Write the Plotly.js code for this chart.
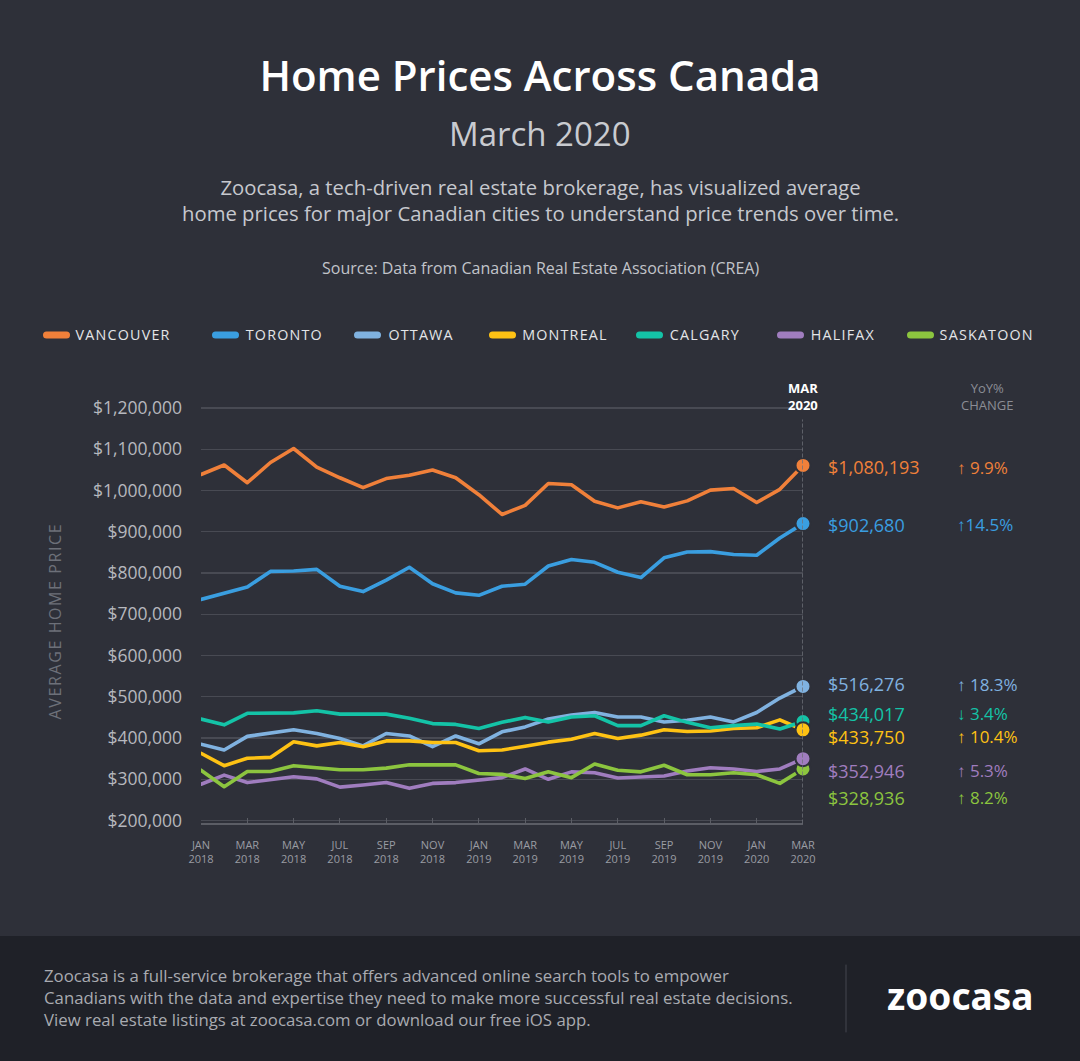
<!DOCTYPE html>
<html>
<head>
<meta charset="utf-8">
<script src="https://cdn.plot.ly/plotly-3.0.1.min.js"></script>
<style>
  html, body { margin: 0; padding: 0; background: #2e3039; }
  #chart { width: 1080px; height: 1061px; }
  .shapelayer path { stroke-linecap: round; }
  .scatterlayer .js-line { stroke-linejoin: round; stroke-linecap: round; }
</style>
</head>
<body>
<div id="chart"></div>
<script>
// ---------------- DATA ----------------
const months = [
  "Jan 2018","Feb 2018","Mar 2018","Apr 2018","May 2018","Jun 2018","Jul 2018","Aug 2018","Sep 2018","Oct 2018","Nov 2018","Dec 2018",
  "Jan 2019","Feb 2019","Mar 2019","Apr 2019","May 2019","Jun 2019","Jul 2019","Aug 2019","Sep 2019","Oct 2019","Nov 2019","Dec 2019",
  "Jan 2020","Feb 2020","Mar 2020"
];
const tickMonths = ["Jan 2018","Mar 2018","May 2018","Jul 2018","Sep 2018","Nov 2018","Jan 2019","Mar 2019","May 2019","Jul 2019","Sep 2019","Nov 2019","Jan 2020","Mar 2020"];
const tickLabels = ["JAN<br>2018","MAR<br>2018","MAY<br>2018","JUL<br>2018","SEP<br>2018","NOV<br>2018","JAN<br>2019","MAR<br>2019","MAY<br>2019","JUL<br>2019","SEP<br>2019","NOV<br>2019","JAN<br>2020","MAR<br>2020"];
const yTicks = [200000,300000,400000,500000,600000,700000,800000,900000,1000000,1100000,1200000];

const cities = ["VANCOUVER","TORONTO","OTTAWA","MONTREAL","CALGARY","HALIFAX","SASKATOON"];

const vancouver = [1039000,1062000,1019000,1068000,1102000,1057000,1031000,1007000,1029000,1037000,1050000,1031000,990000,942000,964000,1017000,1014000,974000,958000,973000,960000,975000,1001000,1005000,971000,1003000,1061000];
const toronto   = [736000,752000,766000,804000,805000,809000,768000,755000,783000,814000,774000,752000,746000,768000,773000,817000,833000,826000,802000,789000,837000,851000,852000,845000,843000,885000,920000];
const ottawa    = [385000,371000,404000,411000,420000,411000,399000,381000,411000,405000,379000,405000,386000,415000,427000,446000,456000,462000,451000,451000,439000,443000,451000,439000,462000,497000,525000];
const montreal  = [363000,333000,351000,353000,391000,381000,389000,379000,393000,393000,389000,389000,369000,371000,380000,390000,397000,411000,399000,407000,420000,416000,417000,423000,425000,444000,420000];
const calgary   = [446000,432000,460000,460000,461000,466000,458000,458000,458000,448000,435000,433000,423000,438000,450000,439000,451000,454000,430000,430000,454000,438000,425000,430000,434000,422000,440000];
const halifax   = [288000,310000,292000,298000,306000,301000,281000,286000,292000,278000,290000,292000,297000,304000,325000,300000,318000,316000,303000,306000,308000,320000,328000,325000,319000,325000,350000];
const saskatoon = [322000,282000,319000,319000,333000,329000,323000,323000,327000,335000,335000,335000,314000,312000,302000,318000,304000,337000,322000,318000,334000,311000,311000,316000,311000,290000,325000];

const latestPrice = ["$1,080,193","$902,680","$516,276","$433,750","$434,017","$352,946","$328,936"];
const yoyChange   = ["↑ 9.9%","↑14.5%","↑ 18.3%","↑ 10.4%","↓ 3.4%","↑ 5.3%","↑ 8.2%"];

const titleText = "Home Prices Across Canada";
const subtitleText = "March 2020";
const descLines = [
  "Zoocasa, a tech-driven real estate brokerage, has visualized average",
  "home prices for major Canadian cities to understand price trends over time."
];
const sourceText = "Source: Data from Canadian Real Estate Association (CREA)";
const footerLines = [
  "Zoocasa is a full-service brokerage that offers advanced online search tools to empower",
  "Canadians with the data and expertise they need to make more successful real estate decisions.",
  "View real estate listings at zoocasa.com or download our free iOS app."
];

// ---------------- STYLE ----------------
const series = [vancouver, toronto, ottawa, montreal, calgary, halifax, saskatoon];
const colors = ["#f0803a","#3a9ee0","#80b2e0","#fec214","#14c3a7","#a07dbf","#8cc53f"];
const dotOrder = [0,1,2,4,3,6,5];
const labelShift = [-2,-1,2,-7,8,-12,-29];
const legendX = [43,212,354,489,636,777,907];
const BG = "#2e3039", FOOT = "#1f2128";
const FONT = "Open Sans, Noto Sans, sans-serif";

const L = 201, R = 803, T = 406, B = 823;
const px = x => (x - L) / (R - L);
const py = y => (B - y) / (B - T);

// ---------------- TRACES ----------------
const traces = [];
series.forEach((s, i) => {
  traces.push({
    type: "scatter", mode: "lines", x: months, y: s,
    line: { color: colors[i], width: 3.6 },
    cliponaxis: false, hoverinfo: "skip", showlegend: false
  });
});
dotOrder.forEach(i => {
  const s = series[i];
  traces.push({
    type: "scatter", mode: "markers",
    x: [months[months.length - 1]], y: [s[s.length - 1]],
    marker: { color: colors[i], size: 15, line: { color: BG, width: 2 } },
    cliponaxis: false, hoverinfo: "skip", showlegend: false
  });
});

// ---------------- ANNOTATIONS ----------------
const ann = [];
const spaced = {};
cities.forEach((c, i) => {
  spaced[ann.length] = "1.2px";
  ann.push({ xref: "paper", yref: "paper", x: px(legendX[i] + 36), y: py(334), xanchor: "left", yanchor: "middle",
    text: c, showarrow: false, font: { family: FONT, size: 14.3, color: "#e4e5e8" } });
});
series.forEach((s, i) => {
  const last = s[s.length - 1];
  ann.push({ xref: "paper", yref: "y", x: px(827), y: last, yshift: labelShift[i], xanchor: "left", yanchor: "middle",
    text: latestPrice[i], showarrow: false, borderpad: 0, font: { family: FONT, size: 18, color: colors[i] } });
  ann.push({ xref: "paper", yref: "y", x: px(956), y: last, yshift: labelShift[i], xanchor: "left", yanchor: "middle",
    text: yoyChange[i], showarrow: false, borderpad: 0, font: { family: FONT, size: 17, color: colors[i] } });
});
ann.push({ xref: "paper", yref: "paper", x: px(540), y: py(133), xanchor: "center", yanchor: "middle",
  text: subtitleText, showarrow: false, font: { family: FONT, size: 33, color: "#c9cbd0" } });
ann.push({ xref: "paper", yref: "paper", x: px(540), y: py(199.5), xanchor: "center", yanchor: "middle", align: "center",
  text: descLines.join("<br>"), showarrow: false, borderpad: 0, font: { family: FONT, size: 20.3, color: "#c6c8ce" } });
ann.push({ xref: "paper", yref: "paper", x: px(540), y: py(268), xanchor: "center", yanchor: "middle",
  text: sourceText, showarrow: false, font: { family: FONT, size: 16, color: "#c2c4ca" } });
ann.push({ xref: "x", yref: "paper", x: months[months.length - 1], y: py(397), xanchor: "center", yanchor: "middle",
  text: "<b>MAR<br>2020</b>", showarrow: false, font: { family: FONT, size: 13, color: "#ffffff" } });
ann.push({ xref: "paper", yref: "paper", x: px(987), y: py(397), xanchor: "center", yanchor: "middle",
  text: "YoY%<br>CHANGE", showarrow: false, font: { family: FONT, size: 13, color: "#8b8d95" } });
spaced[ann.length] = "1.6px";
ann.push({ xref: "paper", yref: "paper", x: px(55), y: py(621), xanchor: "center", yanchor: "middle", textangle: -90,
  text: "AVERAGE HOME PRICE", showarrow: false, font: { family: FONT, size: 16, color: "#6d7079" } });
ann.push({ xref: "paper", yref: "paper", x: px(43), y: py(997), xanchor: "left", yanchor: "middle", align: "left",
  text: footerLines.join("<br>"), showarrow: false, borderpad: 0, font: { family: FONT, size: 16.8, color: "#a9abb1" } });
ann.push({ xref: "paper", yref: "paper", x: px(960), y: py(995), xanchor: "center", yanchor: "middle",
  text: "<b>zoocasa</b>", showarrow: false, font: { family: "Noto Sans, sans-serif", size: 37, color: "#ffffff" } });

// ---------------- SHAPES ----------------
const shapes = [
  { type: "rect", xref: "paper", yref: "paper", x0: px(0), x1: px(1080), y0: py(1061), y1: py(936),
    fillcolor: FOOT, line: { width: 0 }, layer: "below" },
  { type: "line", xref: "paper", yref: "paper", x0: px(846), x1: px(846), y0: py(965), y1: py(1032),
    line: { color: "#44464e", width: 1 } },
  { type: "line", xref: "x", yref: "paper", x0: months[months.length - 1], x1: months[months.length - 1], y0: 0, y1: py(420),
    line: { color: "#6e7078", width: 1.5, dash: "dot" } }
];
cities.forEach((c, i) => {
  shapes.push({ type: "line", xref: "paper", yref: "paper", x0: px(legendX[i] + 3.5), x1: px(legendX[i] + 23.5), y0: py(335), y1: py(335),
    line: { color: colors[i], width: 7 } });
});

// ---------------- LAYOUT ----------------
const layout = {
  width: 1080, height: 1061, autosize: false,
  paper_bgcolor: BG, plot_bgcolor: BG,
  margin: { l: L, r: 1080 - R, t: T, b: 1061 - B, pad: 0 },
  font: { family: FONT, color: "#c0c2c8" },
  title: { text: titleText, x: 0.5, xref: "container", xanchor: "center",
    y: 1 - 76 / 1061, yref: "container", yanchor: "middle",
    font: { family: FONT, size: 42, weight: 600, color: "#ffffff" } },
  showlegend: false,
  xaxis: {
    type: "category", categoryorder: "array", categoryarray: months,
    range: [0, months.length - 1], fixedrange: true,
    tickmode: "array", tickvals: tickMonths, ticktext: tickLabels,
    ticks: "inside", ticklen: 5, tickcolor: "#5b5d65", tickwidth: 1,
    showline: true, linecolor: "#5b5d65", linewidth: 1.5,
    showgrid: false, zeroline: false,
    tickfont: { family: FONT, size: 11, color: "#9a9ca3" }, ticklabelstandoff: 11
  },
  yaxis: {
    range: [194000, 1205000], fixedrange: true,
    tickmode: "array", tickvals: yTicks, tickformat: "$,.0f",
    showgrid: true, gridcolor: "#484a53", gridwidth: 1.3,
    zeroline: false, showline: false, ticks: "",
    tickfont: { family: FONT, size: 17.5, color: "#b6b8be" }, ticklabelstandoff: 18
  },
  annotations: ann,
  shapes: shapes
};

Plotly.newPlot("chart", traces, layout, { displayModeBar: false, staticPlot: true }).then(() => {
  document.querySelectorAll("g.annotation").forEach(g => {
    const idx = g.getAttribute("data-index");
    if (spaced[idx]) {
      g.querySelectorAll("text").forEach(t => t.style.letterSpacing = spaced[idx]);
    }
  });
});
</script>
</body>
</html>
